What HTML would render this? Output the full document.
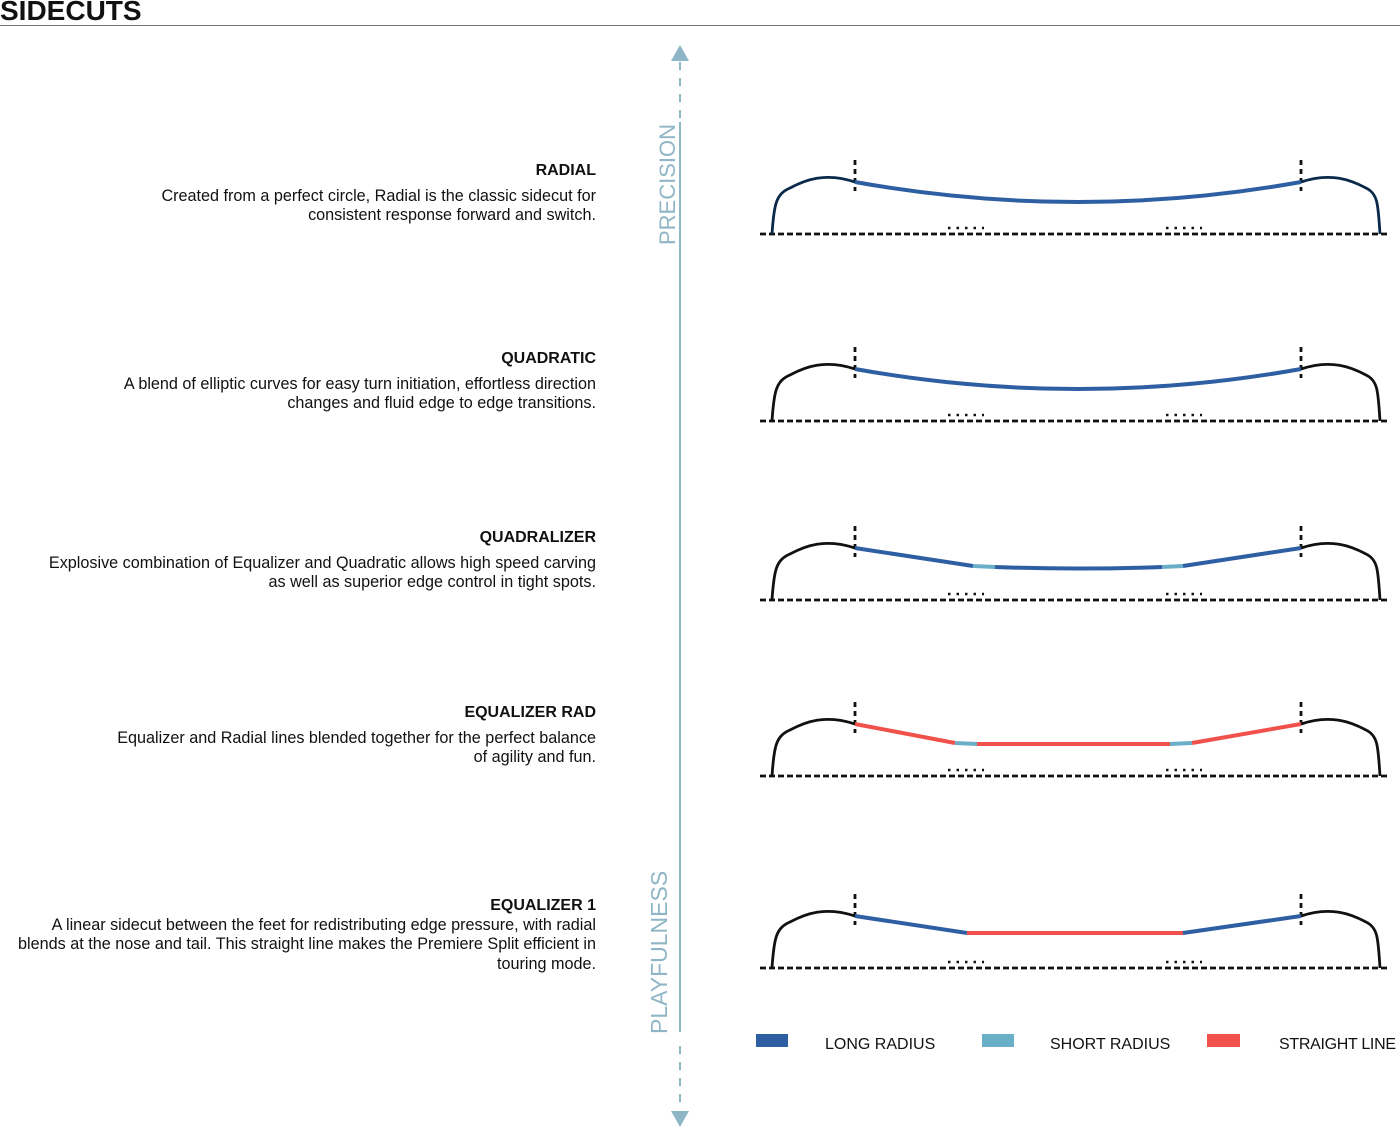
<!DOCTYPE html>
<html><head><meta charset="utf-8"><style>
body{margin:0;background:#fff;width:1400px;height:1127px;overflow:hidden;font-family:"Liberation Sans",sans-serif;}
.t{position:absolute;right:804px;text-align:right;font-size:16.2px;color:#111;line-height:19.5px;white-space:nowrap}
.t b{display:block;font-size:16px;margin-bottom:6px}
</style></head><body>
<div style="position:absolute;left:0;top:-5px;font-size:28px;font-weight:bold;color:#111">SIDECUTS</div>
<div style="position:absolute;left:0;top:25px;width:1400px;height:1px;background:#777"></div>
<div class="t" style="top:161px"><b>RADIAL</b>Created from a perfect circle, Radial is the classic sidecut for<br>consistent response forward and switch.</div>
<div class="t" style="top:349px"><b>QUADRATIC</b>A blend of elliptic curves for easy turn initiation, effortless direction<br>changes and fluid edge to edge transitions.</div>
<div class="t" style="top:528px"><b>QUADRALIZER</b>Explosive combination of Equalizer and Quadratic allows high speed carving<br>as well as superior edge control in tight spots.</div>
<div class="t" style="top:703px"><b>EQUALIZER RAD</b>Equalizer and Radial lines blended together for the perfect balance<br>of agility and fun.</div>
<div class="t" style="top:896px"><b style="margin-bottom:0">EQUALIZER 1</b>A linear sidecut between the feet for redistributing edge pressure, with radial<br>blends at the nose and tail. This straight line makes the Premiere Split efficient in<br>touring mode.</div>
<svg width="1400" height="1127" style="position:absolute;left:0;top:0">
<defs>
<g id="out" fill="none" stroke-width="2.8">
<path d="M772 0 C774 -30 776 -40 790 -46 C805 -54 825 -62 855 -52"/>
<path d="M1301 -52 C1331 -62 1351 -54 1366 -46 C1378 -40 1378 -30 1380 0"/>
</g>
<g id="base">
<line x1="760" y1="0" x2="1388" y2="0" stroke="#111" stroke-width="2.8" stroke-dasharray="6,3"/>
<line x1="855" y1="-74" x2="855" y2="-43" stroke="#111" stroke-width="2.8" stroke-dasharray="5,4"/>
<line x1="1301" y1="-74" x2="1301" y2="-43" stroke="#111" stroke-width="2.8" stroke-dasharray="5,4"/>
<line x1="948" y1="-6" x2="984" y2="-6" stroke="#111" stroke-width="2.6" stroke-dasharray="2.5,6"/>
<line x1="1166" y1="-6" x2="1202" y2="-6" stroke="#111" stroke-width="2.6" stroke-dasharray="2.5,6"/>
</g>
</defs>
<g fill="#8fb6c6">
<line x1="680" y1="62" x2="680" y2="118" stroke="#8fb6c6" stroke-width="2" stroke-dasharray="8,8"/>
<line x1="680" y1="122" x2="680" y2="1032" stroke="#8fb6c6" stroke-width="2"/>
<line x1="680" y1="1046" x2="680" y2="1108" stroke="#8fb6c6" stroke-width="2" stroke-dasharray="8,8"/>
<polygon points="671,61 689,61 680,45"/>
<polygon points="671,1111 689,1111 680,1127"/>
<text transform="translate(675,245) rotate(-90)" font-size="22" fill="#8fb6c6" font-family="Liberation Sans">PRECISION</text>
<text transform="translate(667,1034) rotate(-90)" font-size="23" fill="#8fb6c6" font-family="Liberation Sans">PLAYFULNESS</text>
</g>
<g transform="translate(0,234)"><use href="#base"/><use href="#out" stroke="#0b2a4a"/>
<path d="M855 -52 Q1078 -12 1301 -52" fill="none" stroke="#2e5fa3" stroke-width="4"/></g>
<g transform="translate(0,421)"><use href="#base"/><use href="#out" stroke="#111"/>
<path d="M855 -52 Q1078 -12 1301 -52" fill="none" stroke="#2e5fa3" stroke-width="4"/></g>
<g transform="translate(0,600)"><use href="#base"/><use href="#out" stroke="#111"/>
<g fill="none" stroke-width="4">
<path d="M855 -52 L973 -34" stroke="#2e5fa3"/><path d="M973 -34 L995 -33" stroke="#6aafc8"/>
<path d="M995 -33 Q1078 -30 1162 -33" stroke="#2e5fa3"/><path d="M1162 -33 L1183 -34" stroke="#6aafc8"/>
<path d="M1183 -34 L1301 -52" stroke="#2e5fa3"/></g></g>
<g transform="translate(0,776)"><use href="#base"/><use href="#out" stroke="#111"/>
<g fill="none" stroke-width="4">
<path d="M855 -52 L955 -33" stroke="#f0514a"/><path d="M955 -33 L977 -32" stroke="#6aafc8"/>
<path d="M977 -32 L1170 -32" stroke="#f0514a"/><path d="M1170 -32 L1192 -33" stroke="#6aafc8"/>
<path d="M1192 -33 L1301 -52" stroke="#f0514a"/></g></g>
<g transform="translate(0,968)"><use href="#base"/><use href="#out" stroke="#111"/>
<g fill="none" stroke-width="4">
<path d="M855 -52 L967 -35" stroke="#2e5fa3"/><path d="M967 -35 L1183 -35" stroke="#f0514a"/>
<path d="M1183 -35 L1301 -52" stroke="#2e5fa3"/></g></g>
<rect x="756" y="1034" width="32" height="13" fill="#2e5fa3"/>
<rect x="982" y="1034" width="32" height="13" fill="#6aafc8"/>
<rect x="1207" y="1034" width="33" height="13" fill="#f0514a"/>
<g font-size="16" fill="#111" font-family="Liberation Sans">
<text x="825" y="1049">LONG RADIUS</text>
<text x="1050" y="1049">SHORT RADIUS</text>
<text x="1279" y="1049" textLength="117">STRAIGHT LINE</text></g>
</svg>
</body></html>
